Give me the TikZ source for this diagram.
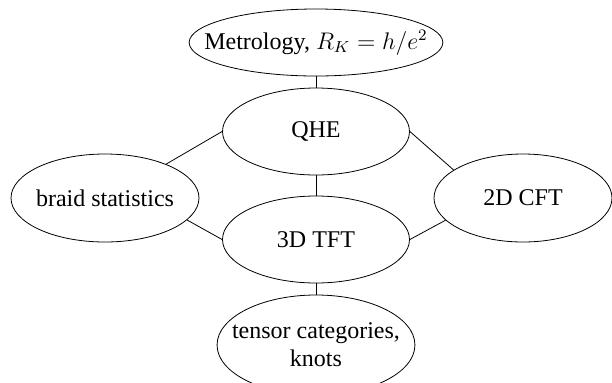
\documentclass[tikz,border=0pt]{standalone}
\usepackage{fontspec}
\setmainfont{Liberation Serif}
\usetikzlibrary{shapes.geometric}
\tikzset{topic/.style={ellipse, draw, inner xsep=-2pt, inner ysep=0pt,
                       minimum width=93.5pt, minimum height=43.5pt,
                       font=\large, align=center}}

\begin{document}
\begin{tikzpicture}[x=0.5pt, y=-0.5pt]
        \useasboundingbox (0,0) rectangle (612,382);
        \node[topic, minimum width=124.5pt, minimum height=33.5pt, inner xsep=-11pt] (metro) at (316,42.5) {Metrology, $R_K = h/e^2$};
        \node[topic] (qhe) at (316,131.5) {QHE};
        \node[topic, minimum width=94pt, minimum height=44pt] (braid) at (105,198) {braid statistics};
        \node[topic, minimum width=89pt, minimum height=44pt] (cft) at (523,198) {2D CFT};
        \node[topic] (tft) at (316,239.5) {3D TFT};
        \node[topic, minimum width=94pt, minimum height=50pt, inner xsep=-7pt] (tensor) at (316,345) {tensor categories,\\ knots};
        \draw[-] (metro) -- (qhe);
        \draw[-] (qhe) -- (tft);
        \draw[-] (tft) -- (tensor);
        \draw[-] (qhe.west) -- (braid.29);
        \draw[-] (qhe.east) -- (cft.158);
        \draw[-] (tft.west) -- (braid.-15);
        \draw[-] (tft.east) -- (cft.196);
\end{tikzpicture}
\end{document}
